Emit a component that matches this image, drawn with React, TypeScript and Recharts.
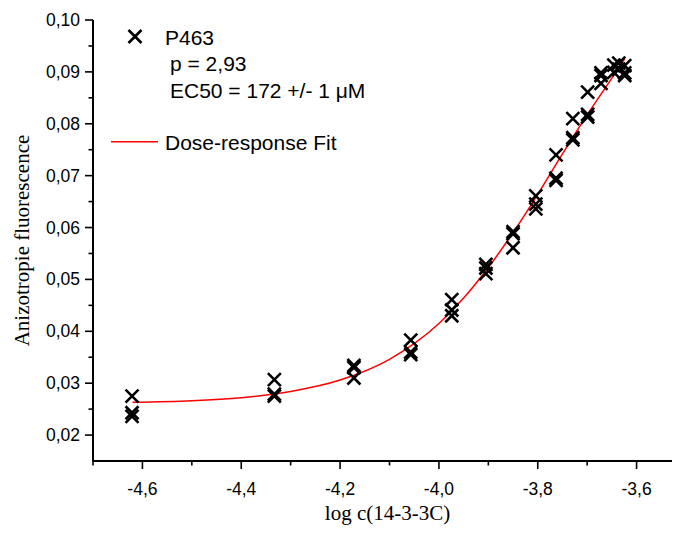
import { ComposedChart, Line, Scatter, XAxis, YAxis, Label } from "recharts";

// log c(14-3-3C) of each titration step
const logConc = [
  -4.621, -4.333, -4.172, -4.057, -3.974, -3.905, -3.85, -3.804, -3.763, -3.729, -3.699,
  -3.672, -3.646, -3.636, -3.624
];

// anisotropy replicates read for each step
const replicates = [
  [0.0275, 0.0243, 0.0236],
  [0.0307, 0.0279, 0.0275],
  [0.0334, 0.033, 0.031],
  [0.0383, 0.036, 0.0355],
  [0.0461, 0.0441, 0.043],
  [0.0529, 0.0522, 0.0511],
  [0.0592, 0.0588, 0.0561],
  [0.0661, 0.0645, 0.0636],
  [0.074, 0.0695, 0.0691],
  [0.081, 0.0773, 0.0769],
  [0.0861, 0.0818, 0.0813],
  [0.0898, 0.0893, 0.0878],
  [0.0913, 0.0899],
  [0.0917, 0.0905],
  [0.0912, 0.0898, 0.0893]
];

// dose-response fit curve
const fitX = [
  -4.62, -4.5, -4.4, -4.3, -4.2, -4.1, -4.0, -3.95, -3.9, -3.85, -3.8, -3.75, -3.7, -3.65,
  -3.624
];
const fitY = [
  0.0263, 0.0266, 0.0272, 0.0284, 0.0306, 0.0346, 0.0415, 0.0464, 0.0523, 0.059, 0.0664,
  0.0742, 0.0817, 0.0888, 0.0925
];

const xTicks = [-4.7, -4.6, -4.5, -4.4, -4.3, -4.2, -4.1, -4.0, -3.9, -3.8, -3.7, -3.6, -3.5];
const yTicks = [
  0.02, 0.025, 0.03, 0.035, 0.04, 0.045, 0.05, 0.055, 0.06, 0.065, 0.07, 0.075, 0.08, 0.085,
  0.09, 0.095, 0.1
];

const points = logConc.flatMap((x, i) => replicates[i].map((y) => ({ x, y })));
const fit = fitX.map((x, i) => ({ x, y: fitY[i] }));

const SANS = "'Liberation Sans', Arial, sans-serif";
const SERIF = "'Liberation Serif', 'DejaVu Serif', serif";

const isStep = (v: number, step: number) => Math.abs(v / step - Math.round(v / step)) < 1e-6;

const Cross = ({ cx, cy }: any) => {
  if (cx == null || cy == null) return null;
  const r = 6.5;
  return (
    <g stroke="#000" strokeWidth={2.6}>
      <line x1={cx - r} y1={cy - r} x2={cx + r} y2={cy + r} />
      <line x1={cx - r} y1={cy + r} x2={cx + r} y2={cy - r} />
    </g>
  );
};

const XTick = ({ x, y, payload }: any) => {
  const major = isStep(payload.value, 0.2);
  return (
    <g>
      <line x1={x} x2={x} y1={y} y2={y + (major ? 8 : 4.5)} stroke="#000" strokeWidth={1.6} />
      {major && (
        <text x={x} y={y + 28} textAnchor="middle" dominantBaseline="central" fontFamily={SANS} fontSize={17.5} fill="#000">
          {payload.value.toFixed(1).replace(".", ",")}
        </text>
      )}
    </g>
  );
};

const YTick = ({ x, y, payload }: any) => {
  const major = isStep(payload.value, 0.01);
  return (
    <g>
      <line x1={x} x2={x - (major ? 8 : 4.5)} y1={y} y2={y} stroke="#000" strokeWidth={1.6} />
      {major && (
        <text x={x - 13} y={y} textAnchor="end" dominantBaseline="central" fontFamily={SANS} fontSize={17.5} fill="#000">
          {payload.value.toFixed(2).replace(".", ",")}
        </text>
      )}
    </g>
  );
};

const YTitle = ({ viewBox }: any) => {
  const cx = (viewBox?.x ?? 0) + 22;
  const cy = (viewBox?.y ?? 20) + (viewBox?.height ?? 441) / 2;
  return (
    <text x={cx} y={cy} transform={`rotate(-90 ${cx} ${cy})`} textAnchor="middle" dominantBaseline="central" fontFamily={SERIF} fontSize={21} fill="#000">
      Anizotropie fluorescence
    </text>
  );
};

const XTitle = ({ viewBox }: any) => {
  const cx = (viewBox?.x ?? 93) + (viewBox?.width ?? 593) / 2 - 2;
  const cy = (viewBox?.y ?? 461) + 52;
  return (
    <text x={cx} y={cy} textAnchor="middle" dominantBaseline="central" fontFamily={SERIF} fontSize={21} fill="#000">
      log c(14-3-3C)
    </text>
  );
};

export default function App() {
  return (
    <div style={{ margin: -8, width: 680, height: 534, overflow: "hidden", position: "relative", background: "#fff" }}>
      <ComposedChart width={700} height={534} margin={{ top: 20, right: 14, bottom: 0, left: 0 }}>
        <XAxis
          dataKey="x"
          type="number"
          domain={[-4.7, -3.5]}
          ticks={xTicks}
          interval={0}
          height={73}
          tickSize={0}
          tickMargin={0}
          tickLine={false}
          tick={<XTick />}
          axisLine={{ stroke: "#000", strokeWidth: 2 }}
          allowDataOverflow
        >
          <Label content={<XTitle />} />
        </XAxis>
        <YAxis
          dataKey="y"
          type="number"
          domain={[0.015, 0.1]}
          ticks={yTicks}
          interval={0}
          width={93}
          tickSize={0}
          tickMargin={0}
          tickLine={false}
          tick={<YTick />}
          axisLine={{ stroke: "#000", strokeWidth: 2 }}
          allowDataOverflow
        >
          <Label content={<YTitle />} />
        </YAxis>
        <Line data={fit} dataKey="y" type="monotone" stroke="#ff0000" strokeWidth={1.5} dot={false} isAnimationActive={false} />
        <Scatter data={points} dataKey="y" shape={<Cross />} isAnimationActive={false} />
      </ComposedChart>
      <svg width={680} height={534} style={{ position: "absolute", left: 0, top: 0, pointerEvents: "none" }}>
        <Cross cx={135} cy={36.5} />
        <text x={165} y={37} dominantBaseline="central" fontFamily={SANS} fontSize={21} fill="#000">P463</text>
        <text x={170} y={63} dominantBaseline="central" fontFamily={SANS} fontSize={21} fill="#000">p = 2,93</text>
        <text x={170} y={90} dominantBaseline="central" fontFamily={SANS} fontSize={21} fill="#000">EC50 = 172 +/- 1 μM</text>
        <line x1={111} x2={158} y1={141.7} y2={141.7} stroke="#ff0000" strokeWidth={1.5} />
        <text x={165} y={142} dominantBaseline="central" fontFamily={SANS} fontSize={21} fill="#000">Dose-response Fit</text>
      </svg>
    </div>
  );
}
